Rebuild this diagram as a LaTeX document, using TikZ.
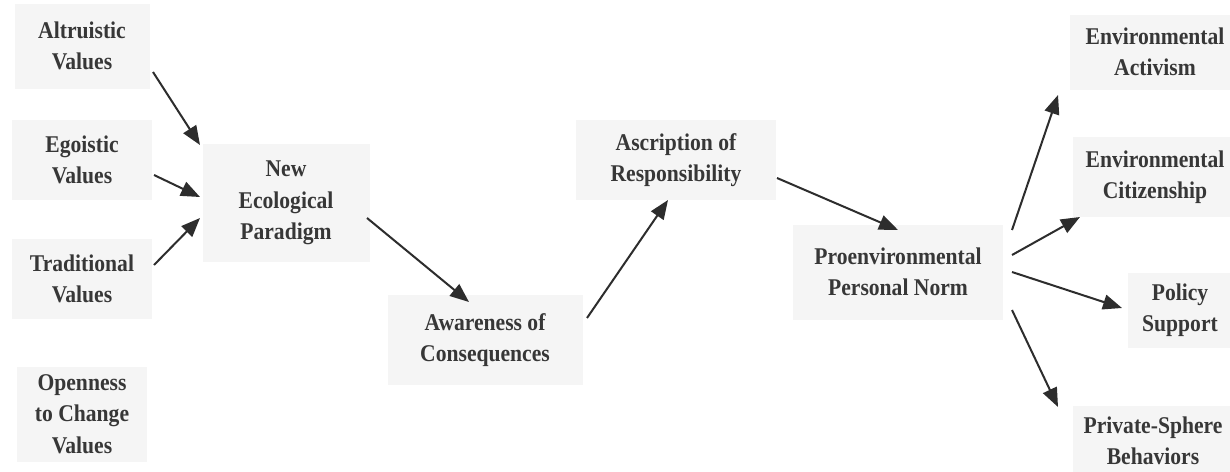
\documentclass[tikz,border=0pt]{standalone}
\usepackage{fontspec}
\setmainfont[FakeStretch=0.9]{Liberation Serif}
\usetikzlibrary{arrows.meta,calc}
\definecolor{boxfill}{RGB}{245,245,245}
\definecolor{inkgray}{RGB}{55,55,55}
\definecolor{arrowgray}{RGB}{45,45,45}
\tikzset{
  concept/.style={fill=boxfill, draw=none, align=center, inner sep=0pt,
    text=inkgray, font=\fontsize{24}{31.5}\selectfont\bfseries},
  link/.style={draw=arrowgray, line width=2pt,
    -{Triangle[length=19pt,width=15pt]}}
}
\begin{document}
\begin{tikzpicture}[x=1pt,y=-1pt]
\useasboundingbox[fill=white] (0,0) rectangle (1230,471);

% value orientations
\node[concept, minimum width=135, minimum height=85] (alt)  at (82,46)  {Altruistic\\Values};
\node[concept, minimum width=140, minimum height=80] (ego)  at (82,160) {Egoistic\\Values};
\node[concept, minimum width=140, minimum height=80] (trad) at (82,279) {Traditional\\Values};
\node[concept, minimum width=130, minimum height=95] (open) at (82,414) {Openness\\to Change\\Values};

% causal chain
\node[concept, minimum width=167, minimum height=118] (nep)  at (286,203) {New\\Ecological\\Paradigm};
\node[concept, minimum width=195, minimum height=90]  (aw)   at (485,340) {Awareness of\\Consequences};
\node[concept, minimum width=200, minimum height=80]  (asc)  at (676,160) {Ascription of\\Responsibility};
\node[concept, minimum width=210, minimum height=95]  (norm) at (898,272) {Proenvironmental\\Personal Norm};

% behavioural outcomes
\node[concept, minimum width=170, minimum height=75] (act)  at (1155,52)  {Environmental\\Activism};
\node[concept, minimum width=165, minimum height=80] (cit)  at (1155,177) {Environmental\\Citizenship};
\node[concept, minimum width=105, minimum height=75] (pol)  at (1180,310) {Policy\\Support};
\node[concept, minimum width=160, minimum height=70] (priv) at (1153,441) {Private-Sphere\\Behaviors};

% links
\draw[link] ($(alt)+(71,26)$)   -- ($(nep)+(-86,-58)$);
\draw[link] ($(ego)+(72,15)$)   -- ($(nep)+(-86,-6)$);
\draw[link] ($(trad)+(72,-14)$) -- ($(nep)+(-86,15)$);
\draw[link] ($(nep)+(81,15)$)   -- ($(aw)+(-16,-38)$);
\draw[link] ($(aw)+(102,-22)$)  -- ($(asc)+(-8,40)$);
\draw[link] ($(asc)+(101,18)$)  -- ($(norm)+(0,-42)$);
\draw[link] ($(norm)+(114,-42)$) -- ($(act)+(-97,43)$);
\draw[link] ($(norm)+(114,-17)$) -- ($(cit)+(-75,40)$);
\draw[link] ($(norm)+(114,0)$)   -- ($(pol)+(-58,-2)$);
\draw[link] ($(norm)+(114,38)$)  -- ($(priv)+(-95,-34)$);
\end{tikzpicture}
\end{document}
